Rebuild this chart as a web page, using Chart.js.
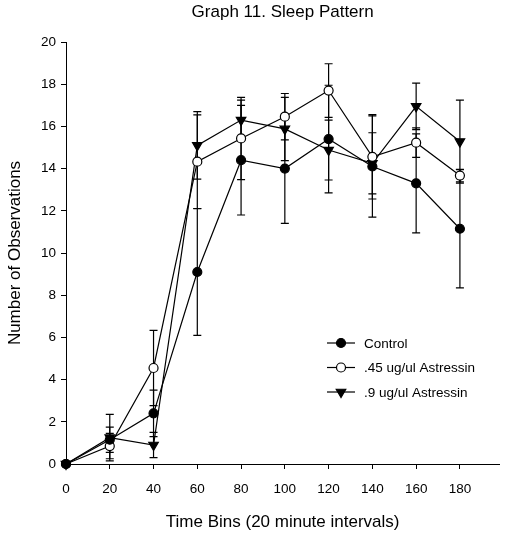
<!DOCTYPE html>
<html>
<head>
<meta charset="utf-8">
<title>Graph 11. Sleep Pattern</title>
<script src="https://cdn.jsdelivr.net/npm/chart.js@4/dist/chart.umd.min.js"></script>
<style>
    html, body { margin: 0; padding: 0; background: #fff; }
    #chart-box { width: 506px; height: 544px; }
</style>
</head>
<body>
<div id="chart-box"><canvas id="sleep-chart" width="506" height="544"></canvas></div>
<script>
// Time bins (minutes) and axis ticks
const timeBins = [0, 20, 40, 60, 80, 100, 120, 140, 160, 180];
const xTicks = [0, 20, 40, 60, 80, 100, 120, 140, 160, 180];
const yTicks = [0, 2, 4, 6, 8, 10, 12, 14, 16, 18, 20];

// Mean observations per group
const controlMean = [0, 1.15, 2.4, 9.1, 14.4, 14.0, 15.4, 14.1, 13.3, 11.15];
const lowDoseMean = [0, 0.85, 4.55, 14.33, 15.43, 16.46, 17.7, 14.56, 15.23, 13.67];
const highDoseMean = [0, 1.25, 0.9, 15.1, 16.3, 15.88, 14.88, 14.25, 16.95, 15.28];

// Standard error per group
const controlErr = [0, 0.6, 1.1, 3.0, 2.6, 2.6, 2.55, 2.4, 2.35, 2.8];
const lowDoseErr = [0, 0.6, 1.78, 2.22, 1.95, 1.1, 1.27, 2.0, 0.7, 0.3];
const highDoseErr = [0, 1.1, 0.6, 1.6, 0.95, 1.5, 1.42, 1.45, 1.1, 1.97];

const seriesLabels = ['Control', '.45 ug/ul Astressin', '.9 ug/ul Astressin'];

const FONT = '"Liberation Sans", Arial, Helvetica, sans-serif';

function toPoints(values) {
    return timeBins.map((x, i) => ({ x: x, y: values[i] }));
}

function makeDataset(label, values, errors, marker) {
    return {
        label: label,
        data: toPoints(values),
        errors: errors,
        marker: marker,
        borderColor: '#000',
        borderWidth: 1.2,
        backgroundColor: marker === 'open' ? '#fff' : '#000',
        pointBackgroundColor: marker === 'open' ? '#fff' : '#000',
        pointBorderColor: '#000',
        pointBorderWidth: 1.2,
        pointStyle: marker === 'triangle' ? 'triangle' : 'circle',
        pointRotation: marker === 'triangle' ? 180 : 0,
        pointRadius: marker === 'triangle' ? 5.5 : 4.5,
        pointHoverRadius: marker === 'triangle' ? 5.5 : 4.5,
        tension: 0,
        fill: false,
        clip: false
    };
}

// Vertical error bars with caps, drawn under the lines and markers
const errorBarPlugin = {
    id: 'errorBars',
    beforeDatasetsDraw(chart) {
        const ctx = chart.ctx;
        const yScale = chart.scales.y;
        ctx.save();
        ctx.strokeStyle = '#000';
        ctx.lineWidth = 1.2;
        chart.data.datasets.forEach((ds, i) => {
            const meta = chart.getDatasetMeta(i);
            meta.data.forEach((pt, j) => {
                const err = ds.errors[j];
                if (!err) return;
                const v = ds.data[j].y;
                const top = yScale.getPixelForValue(v + err);
                const bottom = yScale.getPixelForValue(v - err);
                ctx.beginPath();
                ctx.moveTo(pt.x, top);
                ctx.lineTo(pt.x, bottom);
                ctx.moveTo(pt.x - 4, top);
                ctx.lineTo(pt.x + 4, top);
                ctx.moveTo(pt.x - 4, bottom);
                ctx.lineTo(pt.x + 4, bottom);
                ctx.stroke();
            });
        });
        ctx.restore();
    }
};

function drawMarker(ctx, marker, x, y) {
    ctx.beginPath();
    if (marker === 'triangle') {
        const r = 5.5;
        for (let k = 0; k < 3; k++) {
            const a = Math.PI + k * 2 * Math.PI / 3;
            const px = x + Math.sin(a) * r;
            const py = y - Math.cos(a) * r;
            if (k === 0) ctx.moveTo(px, py); else ctx.lineTo(px, py);
        }
        ctx.closePath();
    } else {
        ctx.arc(x, y, 4.5, 0, Math.PI * 2);
    }
    ctx.fillStyle = marker === 'open' ? '#fff' : '#000';
    ctx.fill();
    ctx.stroke();
}

// Legend inside the plot: line sample with marker, then the label
const innerLegendPlugin = {
    id: 'innerLegend',
    afterDraw(chart) {
        const ctx = chart.ctx;
        ctx.save();
        ctx.strokeStyle = '#000';
        ctx.lineWidth = 1.2;
        ctx.font = '13.5px ' + FONT;
        ctx.textBaseline = 'middle';
        ctx.textAlign = 'left';
        chart.data.datasets.forEach((ds, i) => {
            const y = 343 + i * 24.5;
            ctx.beginPath();
            ctx.moveTo(327, y);
            ctx.lineTo(355, y);
            ctx.stroke();
            drawMarker(ctx, ds.marker, 341, y);
            ctx.fillStyle = '#000';
            ctx.fillText(ds.label, 364, y + 1);
        });
        ctx.restore();
    }
};

const axisStyle = {
    grid: { display: true, drawOnChartArea: false, drawTicks: true, tickLength: 5, color: '#000', lineWidth: 1 },
    border: { display: true, color: '#000', width: 1 }
};

new Chart(document.getElementById('sleep-chart'), {
    type: 'line',
    data: {
        datasets: [
            makeDataset(seriesLabels[0], controlMean, controlErr, 'filled'),
            makeDataset(seriesLabels[1], lowDoseMean, lowDoseErr, 'open'),
            makeDataset(seriesLabels[2], highDoseMean, highDoseErr, 'triangle')
        ]
    },
    options: {
        responsive: false,
        animation: false,
        events: [],
        layout: { padding: { top: 0, right: 6, bottom: 0, left: 0 } },
        plugins: {
            legend: { display: false },
            tooltip: { enabled: false },
            title: {
                display: true,
                text: 'Graph 11. Sleep Pattern',
                fullSize: false,
                color: '#000',
                font: { family: FONT, size: 17, weight: 'normal' },
                padding: { top: 2, bottom: 19.6 }
            }
        },
        scales: {
            x: {
                type: 'linear',
                min: 0,
                max: 198,
                ...axisStyle,
                afterBuildTicks: scale => { scale.ticks = xTicks.map(v => ({ value: v })); },
                afterFit: scale => { scale.height = 80; },
                ticks: {
                    color: '#000',
                    padding: 12,
                    maxRotation: 0,
                    font: { family: FONT, size: 13.5 }
                },
                title: {
                    display: true,
                    text: 'Time Bins (20 minute intervals)',
                    color: '#000',
                    font: { family: FONT, size: 17 },
                    padding: { top: 0, bottom: 11 }
                }
            },
            y: {
                min: 0,
                max: 20,
                ...axisStyle,
                afterBuildTicks: scale => { scale.ticks = yTicks.map(v => ({ value: v })); },
                afterFit: scale => { scale.width = 66; },
                ticks: {
                    color: '#000',
                    padding: 5,
                    font: { family: FONT, size: 13.5 }
                },
                title: {
                    display: true,
                    text: 'Number of Observations',
                    color: '#000',
                    font: { family: FONT, size: 17 },
                    padding: { top: 5, bottom: 0 }
                }
            }
        }
    },
    plugins: [errorBarPlugin, innerLegendPlugin]
});
</script>
</body>
</html>
